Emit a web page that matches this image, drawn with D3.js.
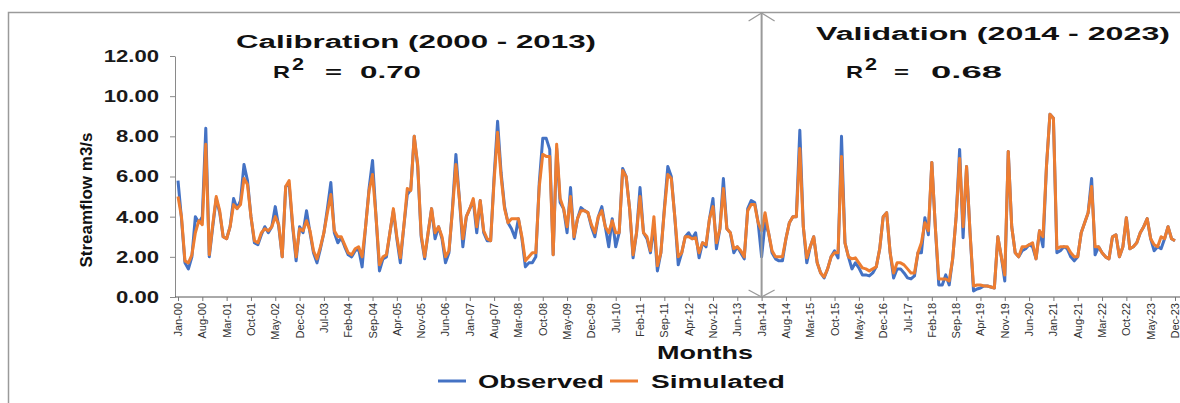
<!DOCTYPE html>
<html>
<head>
<meta charset="utf-8">
<script src="https://cdn.jsdelivr.net/npm/d3@7/dist/d3.min.js"></script>
<style>
  body { margin: 0; background: #fff; }
  svg { display: block; font-family: "Liberation Sans", Arial, sans-serif; }
</style>
</head>
<body>
<div id="chart"></div>
<script>
// monthly streamflow Jan-2000 .. Dec-2023, one row per year
var observed = [
  5.8, 3.9, 1.7, 1.4, 2.0, 4.0, 3.7, 4.0, 8.4, 2.0, 3.5, 4.9,
  4.2, 3.0, 2.9, 3.5, 4.9, 4.4, 4.8, 6.6, 5.8, 4.0, 2.7, 2.6,
  3.1, 3.5, 3.2, 3.5, 4.5, 3.5, 2.0, 5.5, 5.6, 3.5, 1.8, 3.5,
  3.2, 4.3, 3.2, 2.2, 1.7, 2.4, 3.2, 4.4, 5.7, 3.2, 2.7, 2.95,
  2.5, 2.1, 2.0, 2.3, 2.4, 1.5, 3.5, 5.4, 6.8, 4.0, 1.3, 1.9,
  2.0, 3.2, 4.3, 2.9, 1.7, 3.5, 5.1, 5.35, 8.0, 6.5, 3.0, 1.9,
  3.2, 4.4, 2.9, 3.5, 2.9, 1.7, 2.2, 4.4, 7.1, 4.9, 2.5, 4.0,
  4.4, 4.8, 3.2, 4.8, 3.2, 2.8, 2.8, 6.0, 8.75, 6.2, 4.5, 3.7,
  3.4, 2.95, 3.9, 2.9, 1.5, 1.7, 1.7, 2.0, 5.7, 7.9, 7.9, 7.35,
  2.1, 7.4, 4.7, 4.4, 3.2, 5.45, 2.9, 3.9, 4.45, 4.3, 4.2, 3.5,
  3.0, 4.0, 4.5, 3.5, 2.5, 3.9, 2.5, 3.2, 6.4, 6.0, 4.4, 1.95,
  3.2, 5.45, 3.2, 2.9, 2.2, 3.6, 1.3, 2.2, 4.4, 6.5, 6.0, 4.0,
  1.6, 2.2, 3.0, 3.2, 2.9, 3.2, 1.95, 2.7, 2.5, 3.9, 4.9, 2.4,
  3.4, 5.9, 3.4, 3.2, 2.2, 2.5, 2.2, 1.9, 4.4, 4.8, 4.7, 3.7,
  2.0, 3.7, 3.2, 2.2, 1.9, 1.8, 1.8, 2.9, 3.7, 4.0, 4.0, 8.3,
  3.5, 1.7, 2.5, 3.0, 1.7, 1.2, 0.95, 1.4, 2.0, 2.3, 1.95, 8.0,
  2.7, 2.0, 1.4, 1.7, 1.45, 1.1, 1.1, 1.05, 1.2, 1.5, 2.4, 4.0,
  4.2, 2.2, 0.95, 1.4, 1.4, 1.2, 0.95, 0.9, 1.05, 2.2, 2.2, 3.95,
  3.1, 6.7, 3.5, 0.6, 0.6, 1.1, 0.6, 1.9, 4.0, 7.35, 2.95, 6.5,
  3.2, 0.3, 0.4, 0.45, 0.55, 0.55, 0.5, 0.45, 3.0, 2.0, 0.8, 7.25,
  3.5, 2.2, 2.0, 2.3, 2.4, 2.6, 2.5, 1.9, 3.3, 2.5, 6.5, 9.1,
  8.9, 2.2, 2.3, 2.5, 2.4, 2.0, 1.8, 2.0, 3.2, 3.7, 4.2, 5.9,
  2.1, 2.5, 2.2, 2.0, 1.9, 3.0, 3.1, 2.0, 2.5, 3.95, 2.4, 2.5,
  2.7, 3.2, 3.5, 3.9, 2.9, 2.3, 2.5, 2.4, 2.9, 3.5, 2.9, 2.8
];

var simulated = [
  5.0, 4.0, 1.8, 1.7, 2.1, 3.2, 3.8, 3.6, 7.6, 2.1, 3.6, 5.0,
  4.3, 3.0, 2.9, 3.5, 4.6, 4.4, 4.6, 5.9, 5.6, 4.0, 2.8, 2.7,
  3.2, 3.4, 3.3, 3.5, 4.0, 3.6, 2.0, 5.5, 5.8, 3.6, 2.0, 3.4,
  3.3, 3.8, 3.3, 2.3, 1.9, 2.5, 3.2, 4.2, 5.1, 3.3, 3.0, 3.0,
  2.6, 2.2, 2.1, 2.4, 2.5, 2.0, 3.5, 5.3, 6.1, 4.0, 1.6, 2.0,
  2.1, 3.2, 4.4, 3.0, 1.95, 3.5, 5.4, 5.3, 8.0, 6.6, 3.1, 2.0,
  3.2, 4.4, 3.2, 3.5, 3.0, 2.0, 2.3, 4.3, 6.6, 4.9, 2.9, 4.0,
  4.4, 4.9, 3.5, 4.8, 3.3, 2.9, 2.8, 5.8, 8.2, 6.0, 4.4, 3.7,
  3.9, 3.9, 3.9, 3.0, 1.8, 2.0, 2.2, 2.2, 5.5, 7.1, 7.0, 7.0,
  2.1, 7.6, 4.9, 4.4, 3.5, 5.0, 3.0, 3.9, 4.3, 4.3, 4.2, 3.6,
  3.2, 4.0, 4.3, 3.5, 3.2, 3.8, 3.2, 3.2, 6.3, 6.0, 4.4, 2.1,
  3.2, 5.0, 3.2, 3.0, 2.3, 4.0, 1.55, 2.2, 4.3, 6.1, 5.9, 4.0,
  2.0, 2.2, 3.0, 3.0, 2.9, 2.95, 2.2, 2.7, 2.6, 3.9, 4.5, 2.7,
  3.4, 5.4, 3.4, 3.2, 2.4, 2.5, 2.3, 2.0, 4.3, 4.6, 4.6, 3.7,
  3.3, 4.2, 3.2, 2.3, 2.0, 2.0, 2.0, 2.9, 3.7, 4.0, 4.0, 7.4,
  3.5, 1.95, 2.5, 3.0, 1.7, 1.2, 1.0, 1.4, 2.0, 2.2, 2.2, 7.0,
  2.7, 2.0, 1.9, 1.95, 1.7, 1.45, 1.4, 1.3, 1.4, 1.5, 2.4, 4.0,
  4.2, 2.2, 1.2, 1.7, 1.7, 1.6, 1.4, 1.2, 1.2, 2.2, 2.7, 3.7,
  3.3, 6.7, 3.5, 0.9, 0.9, 0.9, 0.8, 1.9, 4.0, 6.9, 3.5, 6.5,
  3.2, 0.55, 0.6, 0.6, 0.55, 0.55, 0.5, 0.45, 3.0, 2.0, 1.1, 7.25,
  3.5, 2.2, 2.0, 2.5, 2.5, 2.6, 2.7, 1.9, 3.3, 3.0, 6.5, 9.1,
  8.9, 2.4, 2.5, 2.5, 2.5, 2.2, 2.0, 2.0, 3.2, 3.7, 4.2, 5.5,
  2.5, 2.5, 2.2, 2.0, 1.9, 3.0, 3.1, 2.0, 2.5, 3.95, 2.4, 2.5,
  2.7, 3.2, 3.5, 3.9, 2.9, 2.6, 2.5, 3.0, 2.9, 3.5, 2.9, 2.8
];

// x tick labels, one every 7 months
var tickLabels = [
  "Jan-00","Aug-00","Mar-01","Oct-01","May-02","Dec-02","Jul-03","Feb-04",
  "Sep-04","Apr-05","Nov-05","Jun-06","Jan-07","Aug-07","Mar-08","Oct-08",
  "May-09","Dec-09","Jul-10","Feb-11","Sep-11","Apr-12","Nov-12","Jun-13",
  "Jan-14","Aug-14","Mar-15","Oct-15","May-16","Dec-16","Jul-17","Feb-18",
  "Sep-18","Apr-19","Nov-19","Jun-20","Jan-21","Aug-21","Mar-22","Oct-22",
  "May-23","Dec-23"
];
var yTicks = [0, 2, 4, 6, 8, 10, 12];
var splitIndex = 168; // Jan-14

var width = 1180, height = 403;

var svg = d3.select("#chart").append("svg")
    .attr("width", width)
    .attr("height", height);

svg.append("rect").attr("width", width).attr("height", height).attr("fill", "#fff");

// outer frame (right / bottom edges fall outside the picture)
svg.append("rect")
    .attr("x", 8.5).attr("y", 12.5)
    .attr("width", 1200).attr("height", 420)
    .attr("fill", "none").attr("stroke", "#9a9a9a").attr("stroke-width", 1.5);

var idx = d3.range(observed.length);

var x = d3.scalePoint().domain(idx).range([178, 1175]);
var y = d3.scaleLinear().domain([0, 12]).range([297, 56]);

function stretch(sel, k) {
  sel.each(function() {
    var L = this.getComputedTextLength();
    d3.select(this).attr("textLength", L * k).attr("lengthAdjust", "spacingAndGlyphs");
  });
}
function fitTo(sel, w) {
  sel.attr("textLength", w).attr("lengthAdjust", "spacingAndGlyphs");
}

// y axis
var yAxis = svg.append("g")
    .attr("transform", "translate(175,0)")
    .call(d3.axisLeft(y).tickValues(yTicks).tickFormat(d3.format(".2f")).tickSize(5).tickSizeOuter(0).tickPadding(11));
yAxis.select(".domain").attr("stroke", "#8a8a8a");
yAxis.selectAll(".tick line").attr("stroke", "#8a8a8a");
yAxis.selectAll("text")
    .attr("fill", "#1a1a1a")
    .style("font-size", "17px").style("font-weight", "bold");
stretch(yAxis.selectAll("text"), 1.3);

// x axis
var tickIdx = tickLabels.map(function(d, i) { return i * 7; });
var xAxis = svg.append("g")
    .attr("transform", "translate(0,297)")
    .call(d3.axisBottom(x).tickValues(tickIdx)
      .tickFormat(function(d) { return tickLabels[d / 7]; })
      .tickSize(4).tickSizeOuter(0));
xAxis.select(".domain").attr("stroke", "#555").attr("d", "M175,0H1190");
xAxis.selectAll(".tick line").attr("stroke", "#777");
xAxis.selectAll("text")
    .attr("transform", "rotate(-90)")
    .attr("x", -6).attr("y", 0).attr("dy", "0.35em")
    .style("text-anchor", "end")
    .style("font-size", "10px")
    .attr("fill", "#333");
stretch(xAxis.selectAll("text"), 1.1);

// series
var line = d3.line()
    .x(function(d, i) { return x(i); })
    .y(function(d) { return y(d); });

svg.append("path").datum(observed)
    .attr("d", line)
    .attr("fill", "none").attr("stroke", "#4472C4")
    .attr("stroke-width", 3).attr("stroke-linejoin", "round");

svg.append("path").datum(simulated)
    .attr("d", line)
    .attr("fill", "none").attr("stroke", "#ED7D31")
    .attr("stroke-width", 3).attr("stroke-linejoin", "round");

// calibration / validation split with arrow heads
var sx = x(splitIndex);
var sep = svg.append("g").attr("stroke", "#9a9a9a").attr("fill", "none");
sep.append("line").attr("x1", sx).attr("x2", sx).attr("y1", 13).attr("y2", 297).attr("stroke-width", 2);
sep.append("path").attr("d", "M" + (sx - 13) + ",21L" + sx + ",13L" + (sx + 13) + ",21").attr("stroke-width", 1.3);
sep.append("path").attr("d", "M" + (sx - 13) + ",290L" + sx + ",297L" + (sx + 13) + ",290").attr("stroke-width", 1.3);

// period annotations
var ann = svg.append("g").attr("fill", "#111").style("font-weight", "bold");

ann.append("text").attr("x", 236).attr("y", 48).style("font-size", "18px")
    .text("Calibration (2000 - 2013)").call(fitTo, 360);
ann.append("text").attr("x", 273).attr("y", 78).style("font-size", "17px").text("R").call(fitTo, 17);
ann.append("text").attr("x", 292).attr("y", 70).style("font-size", "16px").text("2").call(fitTo, 12);
ann.append("text").attr("x", 325).attr("y", 78).style("font-size", "17px").text("=").call(fitTo, 17);
ann.append("text").attr("x", 360).attr("y", 78).style("font-size", "17px").text("0.70").call(fitTo, 61);

ann.append("text").attr("x", 816).attr("y", 40).style("font-size", "18px")
    .text("Validation  (2014 - 2023)").call(fitTo, 354);
ann.append("text").attr("x", 846).attr("y", 78).style("font-size", "17px").text("R").call(fitTo, 17);
ann.append("text").attr("x", 865).attr("y", 70).style("font-size", "16px").text("2").call(fitTo, 12);
ann.append("text").attr("x", 894).attr("y", 78).style("font-size", "17px").text("=").call(fitTo, 15);
ann.append("text").attr("x", 931).attr("y", 78).style("font-size", "17px").text("0.68").call(fitTo, 71);

// axis titles
svg.append("text")
    .attr("transform", "translate(92,200) rotate(-90)")
    .attr("text-anchor", "middle")
    .style("font-size", "16px").style("font-weight", "bold").attr("fill", "#111")
    .text("Streamflow m3/s").call(fitTo, 135);

svg.append("text")
    .attr("x", 657).attr("y", 359)
    .style("font-size", "18px").style("font-weight", "bold").attr("fill", "#111")
    .text("Months").call(fitTo, 96);

// legend
var legend = svg.append("g").style("font-size", "18px").style("font-weight", "bold").attr("fill", "#111");
legend.append("line").attr("x1", 438).attr("x2", 466).attr("y1", 381).attr("y2", 381)
    .attr("stroke", "#4472C4").attr("stroke-width", 3);
legend.append("text").attr("x", 478).attr("y", 388).text("Observed").call(fitTo, 126);
legend.append("line").attr("x1", 610).attr("x2", 638).attr("y1", 381).attr("y2", 381)
    .attr("stroke", "#ED7D31").attr("stroke-width", 3);
legend.append("text").attr("x", 651).attr("y", 388).text("Simulated").call(fitTo, 134);
</script>
</body>
</html>
